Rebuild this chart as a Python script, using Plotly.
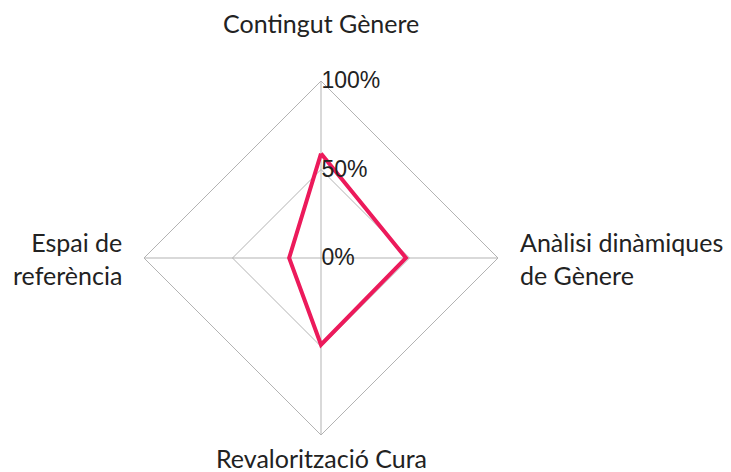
import plotly.graph_objects as go

categories = ["Contingut Gènere", "Anàlisi dinàmiques<br>de Gènere", "Revalorització Cura", "Espai de<br>referència"]
values = [59, 48, 49, 18]
radial_ticks = [0, 50, 100]
radial_tick_labels = ["0%", "50%", "100%"]

grid_color = "#b3b3b3"
label_font = dict(family="Lato, 'Source Sans Pro', sans-serif", size=25, color="#222222")

fig = go.Figure()
fig.add_trace(go.Scatterpolar(
    r=values + values[:1],
    theta=categories + categories[:1],
    mode="lines",
    line=dict(color="#EC1A5B", width=4),
    hoverinfo="skip",
))

# category labels placed around the chart, clear of the outer grid
label_spots = [
    dict(x=0.5, y=1.0, xanchor="center", yanchor="bottom", yshift=41, align="center"),
    dict(x=1.0, y=0.5, xanchor="left", yanchor="middle", xshift=20, align="left"),
    dict(x=0.5, y=0.0, xanchor="center", yanchor="top", yshift=-6, align="center"),
    dict(x=0.0, y=0.5, xanchor="right", yanchor="middle", xshift=-20, align="right"),
]
annotations = [
    dict(text=cat, xref="paper", yref="paper", showarrow=False, font=label_font, **spot)
    for cat, spot in zip(categories, label_spots)
]

fig.update_layout(
    width=731,
    height=472,
    paper_bgcolor="white",
    plot_bgcolor="white",
    showlegend=False,
    margin=dict(l=144, r=233, t=81, b=37),
    annotations=annotations,
    polar=dict(
        gridshape="linear",
        bgcolor="white",
        domain=dict(x=[0, 1], y=[0, 1]),
        angularaxis=dict(
            rotation=90,
            direction="clockwise",
            showline=True,
            linecolor=grid_color,
            linewidth=1,
            gridcolor=grid_color,
            ticks="",
            showticklabels=False,
        ),
        radialaxis=dict(
            range=[0, 100],
            angle=90,
            tickangle=90,
            tickvals=radial_ticks,
            ticktext=radial_tick_labels,
            showline=False,
            gridcolor=grid_color,
            ticks="",
            tickfont=dict(family="Liberation Sans, Arial, sans-serif", size=23, color="#222222"),
        ),
    ),
)

fig.write_html("out.html")
